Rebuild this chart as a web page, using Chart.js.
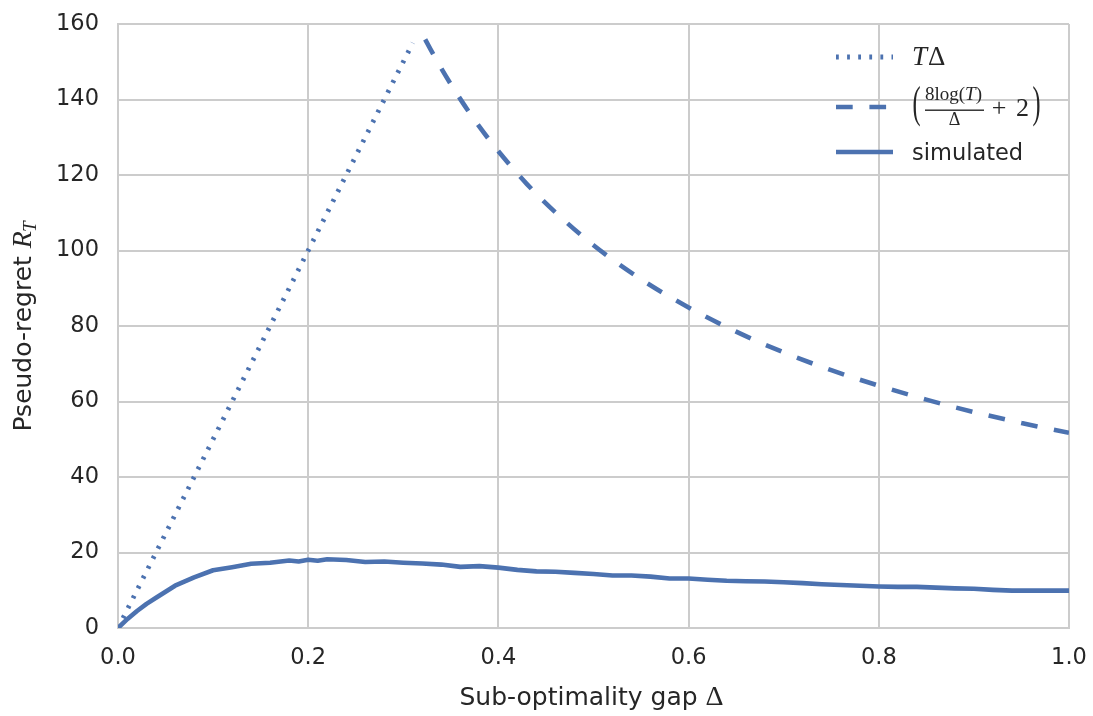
<!DOCTYPE html>
<html>
<head>
<meta charset="utf-8">
<script src="https://cdn.jsdelivr.net/npm/chart.js@4.4.1/dist/chart.umd.min.js"></script>
<style>
  html, body { margin: 0; padding: 0; background: #fff; }
</style>
</head>
<body>
<canvas id="regret-chart" width="1093" height="716"></canvas>
<script>
// axis ticks
const xTicks = [0, 0.2, 0.4, 0.6, 0.8, 1.0];
const yTicks = [0, 20, 40, 60, 80, 100, 120, 140, 160];

// T * Delta (dotted)
const boundX = [0, 0.31];
const boundY = [0, 155];

// 8 log(T) / Delta + 2 (dashed)
const logX = [0.323, 0.34, 0.36, 0.38, 0.40, 0.43, 0.46, 0.50, 0.55, 0.60, 0.65, 0.70, 0.75, 0.80, 0.85, 0.90, 0.95, 1.00];
const logY = [155.9, 148.2, 140.1, 132.8, 126.3, 117.6, 110.1, 101.4, 92.4, 84.9, 78.5, 73.0, 68.3, 64.2, 60.5, 57.2, 54.3, 51.7];

// simulated pseudo-regret
const simX = [0, 0.01, 0.02, 0.03, 0.04, 0.05, 0.06, 0.08, 0.10, 0.12, 0.14, 0.16, 0.18, 0.19, 0.20, 0.21, 0.22,
  0.24, 0.26, 0.28, 0.30, 0.32, 0.34, 0.36, 0.38, 0.40, 0.42, 0.44, 0.46, 0.48, 0.50, 0.52, 0.54, 0.56, 0.58,
  0.60, 0.62, 0.64, 0.66, 0.68, 0.70, 0.72, 0.74, 0.76, 0.78, 0.80, 0.82, 0.84, 0.86, 0.88, 0.90, 0.92, 0.94,
  0.96, 0.98, 1.00];
const simY = [0, 2.4, 4.5, 6.4, 8.0, 9.6, 11.2, 13.4, 15.3, 16.1, 17.0, 17.3, 17.9, 17.6, 18.1, 17.8, 18.2,
  18.0, 17.5, 17.6, 17.3, 17.1, 16.8, 16.2, 16.4, 16.0, 15.4, 15.0, 14.9, 14.6, 14.3, 13.9, 13.9, 13.6, 13.1,
  13.1, 12.8, 12.5, 12.4, 12.3, 12.1, 11.9, 11.6, 11.4, 11.2, 11.0, 10.9, 10.9, 10.7, 10.5, 10.4, 10.1, 9.9,
  9.9, 9.9, 9.9];

const BLUE = "#4c72b0";
const GRID = "#cccccc";
const TEXT = "#262626";
const SANS = "'DejaVu Sans', sans-serif";
const SERIF = "'Liberation Serif', serif";

const toPoints = (xs, ys) => xs.map((x, i) => ({ x: x, y: ys[i] }));

// thin, tall bracket: squeeze the glyph sideways
const drawParen = (ctx, ch, cx, baseline) => {
  ctx.save();
  ctx.translate(cx, baseline);
  ctx.scale(0.55, 1);
  ctx.textAlign = "center";
  ctx.font = `44px ${SERIF}`;
  ctx.fillText(ch, 0, 0);
  ctx.restore();
};

// axis titles and legend, drawn by hand because of the math bits
const textPlugin = {
  id: "mathTexts",
  afterDraw: (chart) => {
    const ctx = chart.ctx;
    const area = chart.chartArea;
    ctx.save();
    ctx.fillStyle = TEXT;
    ctx.textBaseline = "alphabetic";

    // x axis title
    const xa = "Sub-optimality gap ";
    ctx.font = `25px ${SANS}`;
    const wa = ctx.measureText(xa).width;
    ctx.font = `28px ${SERIF}`;
    const wd = ctx.measureText("Δ").width;
    let x0 = (area.left + area.right) / 2 - (wa + wd) / 2 - 2;
    ctx.font = `25px ${SANS}`;
    ctx.fillText(xa, x0, 705);
    ctx.font = `28px ${SERIF}`;
    ctx.fillText("Δ", x0 + wa, 705);

    // y axis title
    ctx.save();
    ctx.translate(31, (area.top + area.bottom) / 2);
    ctx.rotate(-Math.PI / 2);
    const ya = "Pseudo-regret ";
    ctx.font = `25px ${SANS}`;
    const wy = ctx.measureText(ya).width;
    ctx.font = `italic 28px ${SERIF}`;
    const wr = ctx.measureText("R").width;
    ctx.font = `italic 19px ${SERIF}`;
    const wt = ctx.measureText("T").width;
    let y0 = -(wy + wr + wt) / 2;
    ctx.font = `25px ${SANS}`;
    ctx.fillText(ya, y0, 0);
    ctx.font = `italic 28px ${SERIF}`;
    ctx.fillText("R", y0 + wy, 0);
    ctx.font = `italic 19px ${SERIF}`;
    ctx.fillText("T", y0 + wy + wr - 1, 5);
    ctx.restore();

    // legend handles
    const lx = area.right - 157;
    const hx0 = lx - 76;
    const hx1 = lx - 19;
    const rows = [area.top + 33, area.top + 83, area.top + 128];
    chart.data.datasets.forEach((ds) => {
      const row = ds.legendRow;
      ctx.save();
      ctx.strokeStyle = ds.borderColor;
      ctx.lineWidth = ds.borderWidth;
      ctx.lineCap = "butt";
      ctx.setLineDash(ds.borderDash || []);
      ctx.beginPath();
      ctx.moveTo(hx0, rows[row]);
      ctx.lineTo(hx1, rows[row]);
      ctx.stroke();
      ctx.restore();
    });

    // T Delta
    ctx.font = `italic 27px ${SERIF}`;
    ctx.fillText("T", lx, rows[0] + 8);
    const tw = ctx.measureText("T").width;
    ctx.font = `27px ${SERIF}`;
    ctx.fillText("Δ", lx + tw + 1, rows[0] + 8);

    // (8log(T)/Delta + 2)
    const fy = rows[1];
    drawParen(ctx, "(", lx + 4.5, fy + 10);
    drawParen(ctx, ")", lx + 124.5, fy + 10);
    ctx.textAlign = "left";
    let nx = lx + 13;
    const parts = [["8log(", ""], ["T", "italic "], [")", ""]];
    for (const [s, style] of parts) {
      ctx.font = `${style}19px ${SERIF}`;
      ctx.fillText(s, nx, fy - 7);
      nx += ctx.measureText(s).width;
    }
    ctx.fillRect(lx + 13, fy + 2.5, nx - lx - 11, 1.4);
    ctx.textAlign = "center";
    ctx.font = `18px ${SERIF}`;
    ctx.fillText("Δ", lx + 13 + (nx - lx - 11) / 2, fy + 18);
    ctx.font = `26px ${SERIF}`;
    ctx.fillText("+", lx + 87, fy + 9);
    ctx.fillText("2", lx + 110.5, fy + 8.5);

    // simulated
    ctx.textAlign = "left";
    ctx.font = `22.5px ${SANS}`;
    ctx.fillText("simulated", lx, rows[2] + 8);

    ctx.restore();
  },
};

const data = {
  datasets: [
    {
      label: "simulated",
      legendRow: 2,
      data: toPoints(simX, simY),
      borderColor: BLUE,
      borderWidth: 4.6,
    },
    {
      label: "T Delta",
      legendRow: 0,
      data: toPoints(boundX, boundY),
      borderColor: BLUE,
      borderWidth: 4.8,
      borderDash: [2.8, 8.3],
    },
    {
      label: "8log(T)/Delta + 2",
      legendRow: 1,
      data: toPoints(logX, logY),
      borderColor: BLUE,
      borderWidth: 4.6,
      borderDash: [16.7, 16.7],
      cubicInterpolationMode: "monotone",
    },
  ],
};

const tickFont = { family: "DejaVu Sans", size: 22.5 };

const config = {
  type: "line",
  data: data,
  options: {
    responsive: false,
    animation: false,
    devicePixelRatio: 1,
    layout: { padding: { left: 0, right: 24, top: 24, bottom: 0 } },
    elements: {
      point: { radius: 0 },
      line: { borderCapStyle: "butt", borderJoinStyle: "round", fill: false },
    },
    plugins: {
      legend: { display: false },
      tooltip: { enabled: false },
    },
    scales: {
      x: {
        type: "linear",
        min: 0,
        max: 1,
        afterBuildTicks: (scale) => {
          scale.ticks = xTicks.map((v) => ({ value: v }));
        },
        afterFit: (scale) => {
          scale.height = 88;
          scale.paddingLeft = 0;
          scale.paddingRight = 0;
        },
        ticks: {
          font: tickFont,
          color: TEXT,
          padding: 17,
          maxRotation: 0,
          callback: (v) => v.toFixed(1),
        },
        grid: { color: GRID, lineWidth: 2, drawTicks: false },
        border: { color: GRID, width: 2 },
      },
      y: {
        type: "linear",
        min: 0,
        max: 160,
        afterBuildTicks: (scale) => {
          scale.ticks = yTicks.map((v) => ({ value: v }));
        },
        afterFit: (scale) => {
          scale.width = 118;
          scale.paddingTop = 0;
          scale.paddingBottom = 0;
        },
        ticks: {
          font: tickFont,
          color: TEXT,
          padding: 19,
        },
        grid: { color: GRID, lineWidth: 2, drawTicks: false },
        border: { color: GRID, width: 2 },
      },
    },
  },
  plugins: [textPlugin],
};

new Chart(document.querySelector("#regret-chart"), config);
</script>
</body>
</html>
